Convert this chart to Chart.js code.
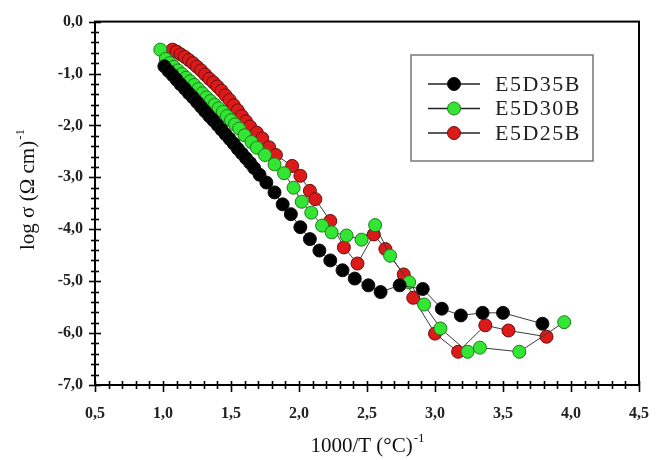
<!DOCTYPE html>
<html>
<head>
<meta charset="utf-8">
<script src="https://cdn.jsdelivr.net/npm/chart.js@4/dist/chart.umd.min.js"></script>
<style>
  html, body { margin: 0; padding: 0; background: #fff; }
  #wrap { width: 668px; height: 460px; }
</style>
</head>
<body>
<div id="wrap"><canvas id="chart" width="668" height="460"></canvas></div>
<script>
// values: x = 1000/T, y = log sigma
const e5d35bX = [1.01, 1.04, 1.07, 1.10, 1.13, 1.16, 1.19, 1.22, 1.25, 1.28, 1.31, 1.34, 1.37, 1.40, 1.43, 1.46, 1.49, 1.52, 1.55, 1.58, 1.61, 1.64, 1.67, 1.71, 1.76, 1.82, 1.88, 1.94, 2.01, 2.08, 2.15, 2.23, 2.32, 2.41, 2.51, 2.60, 2.74, 2.91, 3.05, 3.19, 3.35, 3.50, 3.79];
const e5d35bY = [-0.86, -0.95, -1.03, -1.12, -1.21, -1.29, -1.38, -1.46, -1.55, -1.64, -1.73, -1.82, -1.90, -1.99, -2.08, -2.17, -2.26, -2.35, -2.45, -2.54, -2.63, -2.72, -2.82, -2.95, -3.10, -3.29, -3.52, -3.71, -3.96, -4.19, -4.41, -4.60, -4.79, -4.95, -5.08, -5.21, -5.08, -5.15, -5.53, -5.66, -5.61, -5.61, -5.82];

const e5d30bX = [0.98, 1.02, 1.05, 1.08, 1.11, 1.14, 1.17, 1.20, 1.23, 1.26, 1.29, 1.32, 1.35, 1.38, 1.41, 1.44, 1.47, 1.50, 1.53, 1.56, 1.60, 1.65, 1.69, 1.75, 1.82, 1.89, 1.96, 2.02, 2.09, 2.17, 2.24, 2.35, 2.46, 2.56, 2.67, 2.81, 2.92, 3.04, 3.24, 3.33, 3.62, 3.95];
const e5d30bY = [-0.54, -0.72, -0.80, -0.87, -0.94, -1.01, -1.08, -1.15, -1.22, -1.30, -1.38, -1.46, -1.53, -1.60, -1.67, -1.74, -1.82, -1.90, -1.98, -2.06, -2.19, -2.32, -2.43, -2.57, -2.75, -2.92, -3.20, -3.47, -3.68, -3.93, -4.06, -4.12, -4.20, -3.92, -4.51, -5.02, -5.45, -5.91, -6.36, -6.28, -6.36, -5.79];

const e5d25bX = [1.07, 1.10, 1.13, 1.16, 1.19, 1.22, 1.25, 1.28, 1.31, 1.34, 1.37, 1.40, 1.43, 1.46, 1.49, 1.52, 1.55, 1.58, 1.61, 1.64, 1.69, 1.73, 1.78, 1.83, 1.95, 2.01, 2.08, 2.12, 2.23, 2.33, 2.43, 2.55, 2.635, 2.77, 2.84, 3.00, 3.17, 3.37, 3.54, 3.82];
const e5d25bY = [-0.54, -0.58, -0.63, -0.68, -0.74, -0.80, -0.87, -0.94, -1.02, -1.10, -1.17, -1.25, -1.33, -1.42, -1.51, -1.61, -1.71, -1.82, -1.92, -2.02, -2.14, -2.25, -2.42, -2.57, -2.78, -2.97, -3.26, -3.42, -3.84, -4.35, -4.66, -4.10, -4.38, -4.87, -5.32, -6.01, -6.36, -5.85, -5.95, -6.07];

const seriesNames = ["E5D35B", "E5D30B", "E5D25B"];
const fillColors = ["#000000", "#33e633", "#dd1a1a"];
const edgeColors = ["#111111", "#1f7a1f", "#6a0d0d"];

const xTitle = "1000/T (°C)";
const yTitle = "log σ (Ω cm)";

function toPoints(xs, ys) {
  return xs.map((x, i) => ({ x: x, y: ys[i] }));
}

const seriesData = [toPoints(e5d35bX, e5d35bY), toPoints(e5d30bX, e5d30bY), toPoints(e5d25bX, e5d25bY)];

const datasets = seriesNames.map((name, i) => ({
  label: name,
  data: seriesData[i],
  showLine: true,
  borderColor: "#3a3a3a",
  borderWidth: 1,
  pointBackgroundColor: fillColors[i],
  pointBorderColor: edgeColors[i],
  pointBorderWidth: 1,
  pointRadius: 6.5,
  tension: 0,
}));

const fmt = (v) => {
  const s = Math.abs(v) < 1e-9 ? "0.0" : v.toFixed(1);
  return s.replace(".", ",");
};

// box, cross ticks, axis titles and inner legend
const decorations = {
  id: "decorations",
  afterDraw(chart) {
    const ctx = chart.ctx;
    const a = chart.chartArea;
    const xs = chart.scales.x;
    const ys = chart.scales.y;
    ctx.save();
    ctx.strokeStyle = "#000";
    ctx.lineWidth = 2;
    ctx.strokeRect(a.left, a.top, a.right - a.left, a.bottom - a.top);

    ctx.lineWidth = 1.6;
    ys.ticks.forEach((t) => {
      const py = Math.round(ys.getPixelForValue(t.value)) + 0.5;
      const major = Math.abs(t.value - Math.round(t.value)) < 1e-6;
      const l = major ? 6 : 4;
      ctx.beginPath();
      ctx.moveTo(a.left - l, py);
      ctx.lineTo(a.left + l, py);
      ctx.stroke();
    });
    xs.ticks.forEach((t) => {
      const px = Math.round(xs.getPixelForValue(t.value)) + 0.5;
      const major = Math.abs(t.value * 2 - Math.round(t.value * 2)) < 1e-6;
      ctx.beginPath();
      ctx.moveTo(px, a.bottom - 4);
      ctx.lineTo(px, a.bottom + (major ? 7 : 4));
      ctx.stroke();
    });

    // axis titles with superscript -1
    ctx.fillStyle = "#111";
    ctx.textBaseline = "alphabetic";
    ctx.font = "21px 'Liberation Serif', 'Times New Roman', serif";
    const xw = ctx.measureText(xTitle).width;
    ctx.font = "13px 'Liberation Serif', serif";
    const sw = ctx.measureText("-1").width;
    let x0 = (a.left + a.right) / 2 - (xw + sw) / 2;
    ctx.font = "21px 'Liberation Serif', 'Times New Roman', serif";
    ctx.textAlign = "left";
    ctx.fillText(xTitle, x0, 452);
    ctx.font = "13px 'Liberation Serif', serif";
    ctx.fillText("-1", x0 + xw + 1, 442);

    ctx.save();
    ctx.translate(34, 190);
    ctx.rotate(-Math.PI / 2);
    ctx.font = "21px 'Liberation Serif', 'Times New Roman', serif";
    const yw = ctx.measureText(yTitle).width;
    ctx.textAlign = "left";
    ctx.fillText(yTitle, -(yw + sw) / 2, 0);
    ctx.font = "13px 'Liberation Serif', serif";
    ctx.fillText("-1", -(yw + sw) / 2 + yw + 1, -10);
    ctx.restore();

    // legend box
    ctx.strokeStyle = "#777";
    ctx.lineWidth = 1.5;
    ctx.fillStyle = "#fff";
    ctx.fillRect(411, 55, 182, 106);
    ctx.strokeRect(411, 55, 182, 106);
    chart.data.datasets.forEach((ds, i) => {
      const cy = 84 + i * 24.5;
      ctx.strokeStyle = "#222";
      ctx.lineWidth = 1.5;
      ctx.beginPath();
      ctx.moveTo(428, cy);
      ctx.lineTo(480, cy);
      ctx.stroke();
      ctx.beginPath();
      ctx.arc(454, cy, 6.5, 0, Math.PI * 2);
      ctx.fillStyle = ds.pointBackgroundColor;
      ctx.fill();
      ctx.lineWidth = 1;
      ctx.strokeStyle = ds.pointBorderColor;
      ctx.stroke();
      ctx.fillStyle = "#222";
      ctx.font = "22px 'Liberation Serif', 'Times New Roman', serif";
      ctx.textAlign = "left";
      ctx.textBaseline = "middle";
      ctx.letterSpacing = "1.5px";
      ctx.fillText(ds.label, 495, cy + 1);
      ctx.letterSpacing = "0px";
    });
    ctx.restore();
  },
};

new Chart(document.getElementById("chart"), {
  type: "scatter",
  data: { datasets: datasets },
  options: {
    responsive: false,
    animation: false,
    layout: { padding: { top: 20, right: 11, bottom: 0, left: 0 } },
    plugins: {
      legend: { display: false },
      tooltip: { enabled: false },
    },
    scales: {
      x: {
        type: "linear",
        min: 0.5,
        max: 4.5,
        afterFit: (scale) => { scale.height = 75; },
        grid: { display: false, drawTicks: false },
        border: { display: false },
        ticks: {
          stepSize: 0.1,
          autoSkip: false,
          maxRotation: 0,
          padding: 19,
          color: "#222",
          font: { family: "'Liberation Serif', serif", size: 16, weight: "bold" },
          callback: (v) => (Math.abs(v * 2 - Math.round(v * 2)) < 1e-6 ? fmt(v) : ""),
        },
      },
      y: {
        type: "linear",
        min: -7,
        max: 0,
        afterFit: (scale) => { scale.width = 95; },
        grid: { display: false, drawTicks: false },
        border: { display: false },
        ticks: {
          stepSize: 0.2,
          autoSkip: false,
          padding: 12,
          color: "#222",
          font: { family: "'Liberation Serif', serif", size: 16, weight: "bold" },
          callback: (v) => (Math.abs(v - Math.round(v)) < 1e-6 ? fmt(v) : ""),
        },
      },
    },
  },
  plugins: [decorations],
});
</script>
</body>
</html>
